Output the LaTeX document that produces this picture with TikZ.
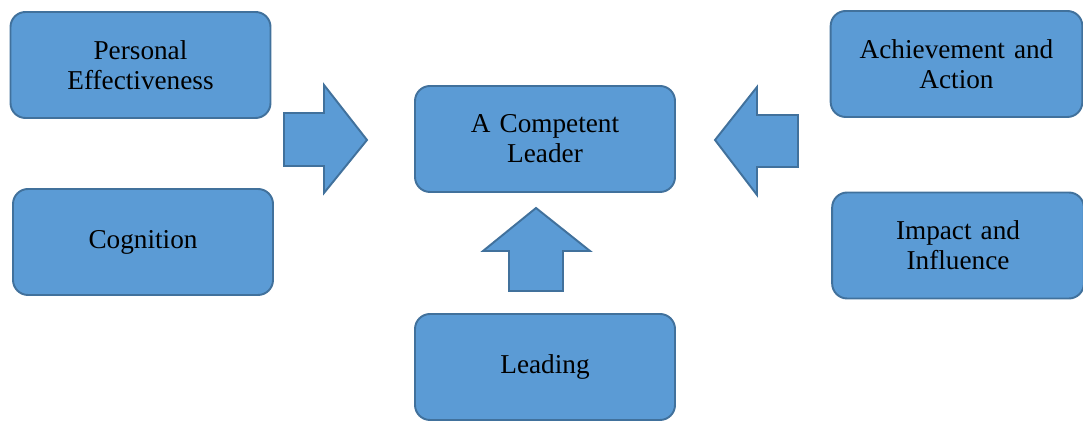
\documentclass[tikz,border=0pt]{standalone}
\usepackage{fontspec}
\setmainfont{Liberation Serif}
\usepackage{tikz}
\usetikzlibrary{positioning}
\definecolor{boxfill}{HTML}{5B9BD5}
\definecolor{boxline}{HTML}{41719C}

\begin{document}
\begin{tikzpicture}[comp/.style={draw=boxline,fill=boxfill,line width=1.1pt,rounded corners=0.3cm,minimum width=5.2cm,minimum height=2.12cm,text width=4.8cm,align=center,font=\fontsize{15.5}{17}\selectfont},
  blk/.style={draw=boxline,fill=boxfill,line width=1.1pt,line join=miter}]
            \useasboundingbox (0,0) rectangle (21.66,8.44);
            \node[comp] (pers) at (2.81,7.14) {Personal\\Effectiveness};
            \node[comp] (cogn) at (2.86,3.6) {Cognition};
            \node[comp] (lead) at (10.9,5.66) {A Competent\\Leader};
            \node[comp] (ldng) at (10.9,1.1) {Leading};
            \node[comp,minimum width=5.02cm] (achv) at (19.13,7.16) {Achievement and\\Action};
            \node[comp,minimum width=5.0cm] (impc) at (19.16,3.53) {Impact and\\Influence};

            % block arrows
            \draw[blk] (5.68,6.18) -- (6.48,6.18) -- (6.48,6.74) -- (7.34,5.64) -- (6.48,4.58) -- (6.48,5.12) -- (5.68,5.12) -- cycle;
            \draw[blk] (15.96,6.14) -- (15.14,6.14) -- (15.14,6.70) -- (14.30,5.64) -- (15.14,4.54) -- (15.14,5.10) -- (15.96,5.10) -- cycle;
            \draw[blk] (10.18,2.62) -- (10.18,3.42) -- (9.66,3.42) -- (10.72,4.28) -- (11.80,3.42) -- (11.26,3.42) -- (11.26,2.62) -- cycle;
          \end{tikzpicture}
\end{document}
